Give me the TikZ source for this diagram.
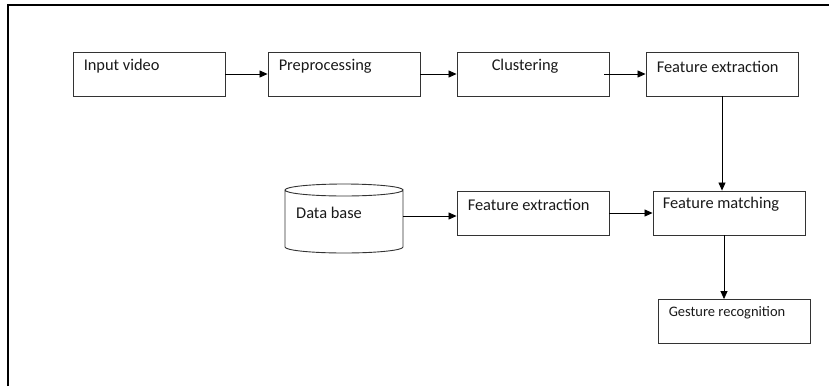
\documentclass[tikz,border=0pt]{standalone}
\usepackage{fontspec}
\setmainfont{Carlito}
\usetikzlibrary{arrows.meta}
\begin{document}
\begin{tikzpicture}[x=1pt,y=-1pt,
  box/.style={draw=black!80,line width=0.9pt,minimum width=152pt,minimum height=44pt,inner sep=0pt},
  lbl/.style={anchor=west,inner sep=0pt,font=\fontsize{16.4}{19}\selectfont,text=black!90},
  slbl/.style={anchor=west,inner sep=0pt,font=\fontsize{14.5}{17}\selectfont,text=black!90},
  arr/.style={draw=black,line width=0.8pt,-{Triangle[length=8pt,width=7pt]}}]
\useasboundingbox (0,0) rectangle (829,386);
\draw[line width=2pt] (8,386) -- (8,5) -- (829,5);
% top row
\node[box] (in) at (149,74) {};
\node[box] (pre) at (344,74) {};
\node[box] (clu) at (533,74) {};
\node[box] (fe) at (722,74) {};
\node[lbl] (tin) at ([xshift=11pt,yshift=-15pt]in.north west) {Input video};
\node[lbl] (tpre) at ([xshift=11pt,yshift=-15pt]pre.north west) {Preprocessing};
\node[lbl] (tclu) at ([xshift=35pt,yshift=-15pt]clu.north west) {Clustering};
\node[lbl] (tfe) at ([xshift=11pt,yshift=-15pt]fe.north west) {Feature extraction};
% middle row
\node[minimum width=118pt,minimum height=69pt,inner sep=0pt] (db) at (344,218.5) {};
\draw[black!80,line width=0.9pt]
  (285,190) -- (285,247) arc[start angle=180,end angle=0,x radius=59,y radius=6]
  -- (403,190) arc[start angle=0,end angle=360,x radius=59,y radius=6];
\node[lbl] (tdb) at (296,213) {Data base};
\node[box] (fe2) at (533,213) {};
\node[box] (fm) at (729,213) {};
\node[lbl] (tfe2) at ([xshift=11pt,yshift=-14pt]fe2.north west) {Feature extraction};
\node[lbl] (tfm) at ([xshift=10pt,yshift=-14pt]fm.north west) {Feature matching};
% bottom
\node[box] (gr) at (734,321.5) {};
\node[slbl] (tgr) at ([xshift=11pt,yshift=-14pt]gr.north west) {Gesture recognition};
% connectors
\draw[arr] (in.east) -- (pre.west);
\draw[arr] (pre.east) -- (clu.west);
\draw[arr] ([xshift=-5pt]clu.east) -- (fe.west);
\draw[arr] (fe.south) -- (fe.south |- fm.north);
\draw[arr] ([yshift=2.5pt]db.east) -- ([yshift=2.5pt]db.east -| fe2.west);
\draw[arr] (fe2.east) -- (fm.west);
\draw[arr] ([xshift=-5pt]fm.south) -- ([xshift=-5pt]fm.south |- gr.north);
\end{tikzpicture}
\end{document}
